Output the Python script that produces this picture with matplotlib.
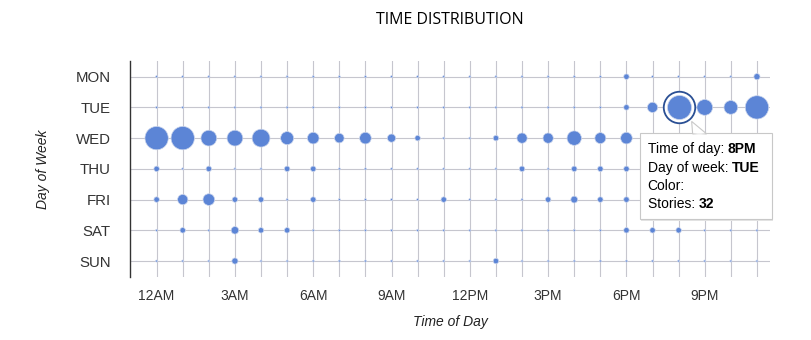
import numpy as np
import matplotlib
matplotlib.use("Agg")
import matplotlib.pyplot as plt
from matplotlib.patches import Rectangle, Polygon
from matplotlib.transforms import Affine2D

# Data: stories per (day, hour)
days = ["MON", "TUE", "WED", "THU", "FRI", "SAT", "SUN"]
hour_ticks = [0, 3, 6, 9, 12, 15, 18, 21]
hour_labels = ["12AM", "3AM", "6AM", "9AM", "12PM", "3PM", "6PM", "9PM"]
hour_names = ["12AM", "1AM", "2AM", "3AM", "4AM", "5AM", "6AM", "7AM", "8AM", "9AM", "10AM", "11AM",
              "12PM", "1PM", "2PM", "3PM", "4PM", "5PM", "6PM", "7PM", "8PM", "9PM", "10PM", "11PM"]

mon = [0, 0, 0, 0, 0, 0, 0, 0, 0, 0, 0, 0, 0, 0, 0, 0, 0, 0, 5, 0, 0, 0, 0, 6]
tue = [0, 0, 0, 0, 0, 0, 0, 0, 0, 0, 0, 0, 0, 0, 0, 0, 0, 0, 5, 12, 32, 20, 17, 31]
wed = [31, 31, 20, 20, 23, 16, 14, 11, 14, 9, 5, 0, 0, 5, 12, 12, 18, 13, 14, 6, 5, 0, 5, 7]
thu = [5, 0, 5, 0, 0, 5, 5, 0, 0, 0, 0, 0, 0, 0, 5, 0, 5, 5, 5, 0, 0, 0, 0, 0]
fri = [5, 12, 14, 5, 5, 0, 5, 0, 0, 0, 0, 5, 0, 0, 0, 5, 7, 5, 5, 0, 0, 0, 0, 0]
sat = [0, 5, 0, 8, 5, 5, 0, 0, 0, 0, 0, 0, 0, 0, 0, 0, 0, 0, 5, 5, 5, 0, 0, 0]
sun = [0, 0, 0, 6, 0, 0, 0, 0, 0, 0, 0, 0, 0, 5, 0, 0, 0, 0, 0, 0, 0, 0, 0, 0]

# highlighted point (tooltip)
sel_day, sel_hour = 1, 20

counts = np.array([mon, tue, wed, thu, fri, sat, sun], dtype=float)
yy, xx = np.meshgrid(np.arange(len(days)), np.arange(24), indexing="ij")

DPI = 100
fig = plt.figure(figsize=(8.12, 3.4), dpi=DPI, facecolor="white")
ax = fig.add_axes([130 / 812, 63 / 340, 640 / 812, 216 / 340])
ax.set_xlim(-1.02, 23.5)
ax.set_ylim(6.52, -0.51)

grid_c = "#c6c6ce"
for h in range(24):
    ax.axvline(h, color=grid_c, lw=0.8, zorder=0)
for d in range(len(days)):
    ax.axhline(d, color=grid_c, lw=0.8, zorder=0)

# bubble diameter in pixels, linear in value
vmax = counts.max()
diam = 2 + 22 * counts / vmax
sizes = (diam * 72 / DPI) ** 2

ax.scatter(xx.ravel(), yy.ravel(), s=sizes.ravel(), c="#5c85d6",
           edgecolors="#c9d4ec", linewidths=0.5, zorder=3)

# selection ring
sd = diam[sel_day, sel_hour]
ax.scatter([sel_hour], [sel_day], s=((sd + 7.5) * 72 / DPI) ** 2, facecolor="white",
           edgecolors="#2a4f94", linewidths=1.3, zorder=4)
ax.scatter([sel_hour], [sel_day], s=(sd * 72 / DPI) ** 2, c="#5c85d6",
           edgecolors="#c9d4ec", linewidths=0.5, zorder=5)

for s in ["top", "right", "bottom"]:
    ax.spines[s].set_visible(False)
ax.spines["left"].set_color("#333333")
ax.spines["left"].set_linewidth(1.0)

ax.set_yticks(range(len(days)))
ax.set_yticklabels(days, fontsize=10.8, color="#333333", family="Liberation Sans")
ax.set_xticks(hour_ticks)
ax.set_xticklabels(hour_labels, fontsize=10, color="#333333", family="Liberation Sans")
ax.tick_params(axis="both", length=0)
ax.tick_params(axis="y", pad=14)
ax.tick_params(axis="x", pad=9)

ax.set_xlabel("Time of Day", fontsize=10, style="italic", family="Liberation Sans",
              color="#222222", labelpad=8)
ax.set_ylabel("Day of Week", fontsize=10, style="italic", family="Liberation Sans",
              color="#222222", labelpad=18)

fig.text(0.5 * (130 + 770) / 812, 1 - 20 / 340, "TIME DISTRIBUTION", ha="center", va="center",
         fontsize=11.5, family="Open Sans", color="black")

# tooltip, placed in pixels relative to the selected point
px, py = ax.transData.transform((sel_hour, sel_day))
tt = Affine2D().scale(1, -1).translate(px, py)  # dx right, dy down

shadow = Rectangle((-38, 28), 132, 86, transform=tt, facecolor="#e4e4e4",
                   edgecolor="none", zorder=8, clip_on=False)
box = Rectangle((-39, 26), 132, 86, transform=tt, facecolor="white",
                edgecolor="#c8c8c8", lw=0.8, zorder=9, clip_on=False)
ptr = Polygon([(13, 14), (14, 26.5), (28, 26.5)], closed=True, transform=tt,
              facecolor="white", edgecolor="#c8c8c8", lw=0.8, zorder=10, clip_on=False)
ptr_fill = Polygon([(14.6, 25.6), (27, 25.6), (14.6, 27.2), (27, 27.2)], transform=tt,
                   facecolor="white", edgecolor="none", zorder=11, clip_on=False)
for p in (shadow, box, ptr, ptr_fill):
    fig.add_artist(p)

lines = [("Time of day: ", hour_names[sel_hour]),
         ("Day of week: ", days[sel_day]),
         ("Color:", ""),
         ("Stories: ", str(int(counts[sel_day, sel_hour])))]
for i, (lab, val) in enumerate(lines):
    t = fig.text(0, 0, lab, transform=Affine2D().translate(px - 31, py - (42 + 18.3 * i)),
                 fontsize=10, family="Liberation Sans", color="black", va="center",
                 ha="left", zorder=12)
    if val:
        fig.add_artist(plt.matplotlib.text.Annotation(
            val, xy=(1, 0.5), xycoords=t, va="center", ha="left", fontsize=10,
            family="Liberation Sans", fontweight="bold", color="black", zorder=12))

fig.savefig("out.png", dpi=DPI, facecolor="white")
